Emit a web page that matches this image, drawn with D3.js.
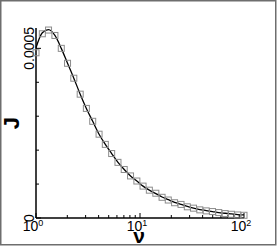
<!DOCTYPE html>
<html>
<head>
<meta charset="utf-8">
<script src="https://cdn.jsdelivr.net/npm/d3@7"></script>
<style>
  body { margin: 0; background: #fff; }
  svg { display: block; font-family: "Liberation Sans", Arial, sans-serif; }
</style>
</head>
<body>
<div id="chart"></div>
<script>
// frequency values (log spaced) and J
var nuValues = [1.00, 1.15, 1.32, 1.52, 1.75, 2.01, 2.31, 2.66, 3.05, 3.51,
    4.04, 4.64, 5.34, 6.14, 7.05, 8.11, 9.33, 10.7, 12.3, 14.2,
    16.3, 18.7, 21.5, 24.8, 28.5, 32.7, 37.6, 43.3, 49.8, 57.2,
    65.8, 75.7, 87.0, 100]
var markerJ = [4.87e-4, 5.43e-4, 5.54e-4, 5.38e-4, 5.00e-4, 4.56e-4, 4.12e-4, 3.65e-4, 3.23e-4, 2.85e-4,
    2.47e-4, 2.17e-4, 1.90e-4, 1.64e-4, 1.43e-4, 1.24e-4, 1.09e-4, 0.94e-4, 0.82e-4, 0.73e-4,
    0.61e-4, 0.53e-4, 0.45e-4, 0.40e-4, 0.33e-4, 0.29e-4, 0.24e-4, 0.21e-4, 0.19e-4, 0.16e-4,
    0.13e-4, 0.11e-4, 0.09e-4, 0.08e-4]
var lineJ = [5.02e-4, 5.46e-4, 5.55e-4, 5.38e-4, 5.00e-4, 4.56e-4, 4.12e-4, 3.65e-4, 3.23e-4, 2.85e-4,
    2.47e-4, 2.17e-4, 1.90e-4, 1.64e-4, 1.43e-4, 1.24e-4, 1.09e-4, 0.94e-4, 0.82e-4, 0.72e-4,
    0.62e-4, 0.54e-4, 0.46e-4, 0.40e-4, 0.34e-4, 0.29e-4, 0.25e-4, 0.22e-4, 0.19e-4, 0.16e-4,
    0.14e-4, 0.12e-4, 0.10e-4, 0.09e-4]
var xMajorTicks = [1, 10, 100]
var xTickExp = ["0", "1", "2"]
var yMajorTicks = [0, 0.0005]
var yTickLabels = ["0", "0.0005"]
var yMinorTicks = [0.0001, 0.0002, 0.0003, 0.0004]

var width = 277
var height = 246

var svg = d3.select("#chart")
    .append("svg")
    .attr("width", width)
    .attr("height", height)

// outer frame
svg.append("rect")
    .attr("x", 0.75).attr("y", 0.75)
    .attr("width", 275).attr("height", 244)
    .attr("fill", "none")
    .attr("stroke", "#6e6e6e")
    .attr("stroke-width", 1.5)

var x = d3.scaleLog().domain([1, 100]).range([36, 244])
var y = d3.scaleLinear().domain([0, 0.00056]).range([218, 28])

// minor ticks for the log axis
var xMinor = []
for (let d = 1; d < 100; d *= 10) {
    for (let k = 2; k <= 9; k++) xMinor.push(d * k)
}

// axis lines
svg.append("line")
    .attr("x1", x(1)).attr("x2", x(1))
    .attr("y1", y(0)).attr("y2", y(0.00056))
    .attr("stroke", "black").attr("stroke-width", 1.5)
svg.append("line")
    .attr("x1", x(1)).attr("x2", x(100))
    .attr("y1", y(0)).attr("y2", y(0))
    .attr("stroke", "black").attr("stroke-width", 1.5)

// x ticks (pointing up into the plot)
svg.selectAll(".xmaj").data(xMajorTicks).enter().append("line")
    .attr("x1", d => x(d)).attr("x2", d => x(d))
    .attr("y1", y(0)).attr("y2", y(0) - 5)
    .attr("stroke", "black")
svg.selectAll(".xmin").data(xMinor).enter().append("line")
    .attr("x1", d => x(d)).attr("x2", d => x(d))
    .attr("y1", y(0)).attr("y2", y(0) - 3)
    .attr("stroke", "black")

// y ticks (pointing right)
svg.selectAll(".ymaj").data(yMajorTicks).enter().append("line")
    .attr("x1", x(1)).attr("x2", x(1) + 5)
    .attr("y1", d => y(d)).attr("y2", d => y(d))
    .attr("stroke", "black")
svg.selectAll(".ymin").data(yMinorTicks).enter().append("line")
    .attr("x1", x(1)).attr("x2", x(1) + 3)
    .attr("y1", d => y(d)).attr("y2", d => y(d))
    .attr("stroke", "black")

// x tick labels 10^n
var xl = svg.selectAll(".xlab").data(xMajorTicks).enter().append("text")
    .attr("x", d => x(d) - 3)
    .attr("y", 231)
    .attr("text-anchor", "middle")
    .style("font-size", "14px")
    .text("10")
xl.append("tspan")
    .attr("dy", -5)
    .style("font-size", "9px")
    .text((d, i) => xTickExp[i])

// y tick labels, rotated
svg.selectAll(".ylab").data(yMajorTicks).enter().append("text")
    .attr("transform", d => "translate(34," + y(d) + ") rotate(-90)")
    .attr("text-anchor", "middle")
    .style("font-size", "14px")
    .text((d, i) => yTickLabels[i])

// axis titles
svg.append("text")
    .attr("x", 139).attr("y", 243)
    .attr("text-anchor", "middle")
    .style("font-size", "21px")
    .style("font-weight", "bold")
    .text("ν")
svg.append("text")
    .attr("transform", "translate(19,123) rotate(-90)")
    .attr("text-anchor", "middle")
    .style("font-size", "22px")
    .style("font-weight", "bold")
    .text("J")

// the curve
var line = d3.line()
    .x(d => x(d[0]))
    .y(d => y(d[1]))
    .curve(d3.curveMonotoneX)
svg.append("path")
    .datum(nuValues.map((v, i) => [v, lineJ[i]]))
    .attr("d", line)
    .attr("fill", "none")
    .attr("stroke", "black")
    .attr("stroke-width", 1.3)

// open square markers
svg.selectAll(".mk").data(nuValues).enter().append("rect")
    .attr("x", d => x(d) - 3)
    .attr("y", (d, i) => y(markerJ[i]) - 3)
    .attr("width", 6).attr("height", 6)
    .attr("fill", "none")
    .attr("stroke", "#8c8c8c")
    .attr("stroke-width", 1)
</script>
</body>
</html>
